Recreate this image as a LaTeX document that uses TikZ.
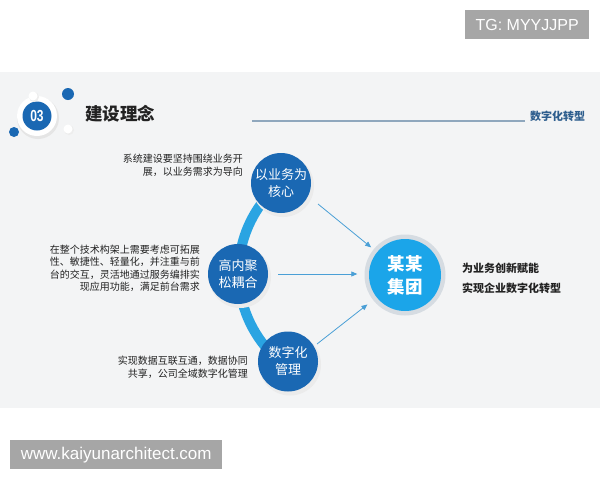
\documentclass[tikz,border=0pt]{standalone}
\usepackage{fontspec}
\usepackage{graphicx}
\setmainfont{Liberation Sans}
\newfontfamily\cjk{Noto Sans CJK SC}
\usetikzlibrary{arrows.meta}
\definecolor{bggray}{HTML}{F3F4F5}
\definecolor{darkblue}{HTML}{1A68B3}
\definecolor{arcblue}{HTML}{2AA4E2}
\definecolor{centblue}{HTML}{1BA5E9}
\definecolor{ringgray}{HTML}{D6DCE2}
\definecolor{arrowblue}{HTML}{4A9FD6}
\definecolor{boxgray}{HTML}{A6A6A6}
\definecolor{txtdark}{HTML}{222222}
\definecolor{linegray}{HTML}{8FA7BD}
\definecolor{subblue}{HTML}{2E5E8E}
\tikzset{
  keycircle/.style={circle,fill=darkblue,minimum size=60pt,inner sep=0pt,text=white,align=center,font=\cjk\fontsize{13}{17}\selectfont},
  desc/.style={align=right,inner sep=0pt,text=txtdark,font=\cjk\fontsize{10}{12.5}\selectfont},
  flowarrow/.style={draw=arrowblue,line width=0.8pt,-{Triangle[length=6pt,width=5pt]}},
  tagbox/.style={fill=boxgray,text=white,inner sep=0pt,font=\fontsize{16}{16}\selectfont},
  shadowc/.style={circle,fill=black!8,inner sep=0pt}
}
\begin{document}
\begin{tikzpicture}[x=1pt,y=-1pt]
\useasboundingbox (0,0) rectangle (600,480);
\fill[white] (0,0) rectangle (600,480);
\fill[bggray] (0,72) rectangle (600,408);

% watermark boxes
\node[tagbox,minimum width=124pt,minimum height=29pt,anchor=north west] (tg) at (465,10) {TG: MYYJJPP};
\node[tagbox,minimum width=212pt,minimum height=29pt,anchor=north west,font=\fontsize{17}{17}\selectfont] (web) at (10,440) {www.kaiyunarchitect.com};

% logo
\fill[black!10] (38,118) circle[radius=21];
\fill[white] (37,116) circle[radius=20];
\node[circle,fill=darkblue,minimum size=29pt,inner sep=0pt,text=white,font=\bfseries\fontsize{16}{16}\selectfont] (logo) at (37,116) {\scalebox{0.75}[1]{03}};
\fill[darkblue] (68,94) circle[radius=6];
\fill[darkblue] (14,132) circle[radius=5];
\fill[black!7] (34,97) circle[radius=5];
\fill[white] (33,96) circle[radius=4.5];
\fill[black!7] (69,130) circle[radius=5];
\fill[white] (68,129) circle[radius=4.5];

% title
\node[anchor=west,inner sep=0pt,text=txtdark,font=\cjk\bfseries\fontsize{17.5}{17.5}\selectfont] (title) at (85,114) {建设理念};
\coordinate (lineL) at (252,121);
\coordinate (lineR) at (525,121);
\draw[linegray,line width=1.2pt] (lineL) -- (lineR);
\node[anchor=west,inner sep=0pt,text=subblue,font=\cjk\bfseries\fontsize{11}{11}\selectfont] (sub) at (530,116) {数字化转型};

% circles coordinates
\coordinate (ctop) at (281,183);
\coordinate (cmid) at (238,274);
\coordinate (cbot) at (288,361.5);

% arc
\draw[arcblue,line width=10pt] (ctop) arc[start angle=230.6,end angle=126.4,radius=116];

% shadows
\node[shadowc,minimum size=62pt] at (283,186) {};
\node[shadowc,minimum size=62pt] at (240,277) {};
\node[shadowc,minimum size=62pt] at (290,364.5) {};

\node[keycircle] (top) at (ctop) {以业务为\\核心};
\node[keycircle] (mid) at (cmid) {高内聚\\松耦合};
\node[keycircle] (bot) at (cbot) {数字化\\管理};

% centre
\node[circle,fill=ringgray,minimum size=81pt,inner sep=0pt] (ring) at (405,275) {};
\node[circle,fill=centblue,minimum size=72pt,inner sep=0pt,text=white,align=center,font=\cjk\bfseries\fontsize{17.5}{23}\selectfont] (centre) at (405,275) {某某\\集团};

% arrows
\coordinate (a1) at (318,204);
\coordinate (a2) at (278,274);
\coordinate (a3) at (317,344);
\draw[flowarrow,shorten >=3pt] (a1) -- (ring);
\draw[flowarrow,shorten >=7pt] (a2) -- (a2 -| ring.west);
\draw[flowarrow,shorten >=7pt] (a3) -- (ring);

% descriptions
\node[desc,anchor=east] (d1) at (243,165.5) {系统建设要坚持围绕业务开\\展，以业务需求为导向};
\node[desc,anchor=east] (d2) at (200,268.5) {在整个技术构架上需要考虑可拓展\\性、敏捷性、轻量化，并注重与前\\台的交互，灵活地通过服务编排实\\现应用功能，满足前台需求};
\node[desc,anchor=east] (d3) at (248,367.5) {实现数据互联互通，数据协同\\共享，公司全域数字化管理};

% right text
\node[anchor=west,inner sep=0pt,text=txtdark,font=\cjk\bfseries\fontsize{11}{11}\selectfont] (r1) at (462,268) {为业务创新赋能};
\node[anchor=west,inner sep=0pt,text=txtdark,font=\cjk\bfseries\fontsize{11}{11}\selectfont] (r2) at (462,288) {实现企业数字化转型};
\end{tikzpicture}
\end{document}
